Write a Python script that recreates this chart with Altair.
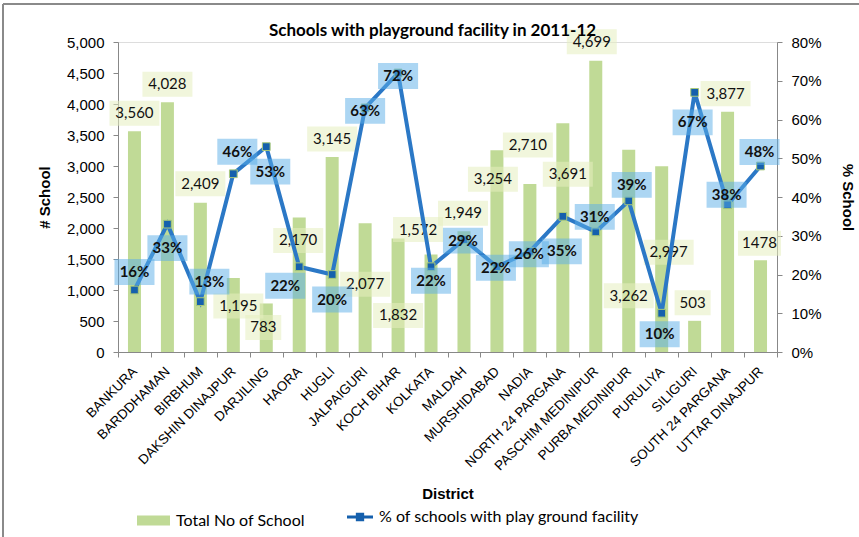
import altair as alt
import pandas as pd

# ---------------- data ----------------
DISTRICTS = [
    "BANKURA", "BARDDHAMAN", "BIRBHUM", "DAKSHIN DINAJPUR", "DARJILING", "HAORA",
    "HUGLI", "JALPAIGURI", "KOCH BIHAR", "KOLKATA", "MALDAH", "MURSHIDABAD", "NADIA",
    "NORTH 24 PARGANA", "PASCHIM MEDINIPUR", "PURBA MEDINIPUR", "PURULIYA", "SILIGURI",
    "SOUTH  24 PARGANA", "UTTAR DINAJPUR",
]
TOTAL_SCHOOLS = [3560, 4028, 2409, 1195, 783, 2170, 3145, 2077, 1832, 1572,
                 1949, 3254, 2710, 3691, 4699, 3262, 2997, 503, 3877, 1478]
TOTAL_LABELS = ["3,560", "4,028", "2,409", "1,195", "783", "2,170", "3,145", "2,077",
                "1,832", "1,572", "1,949", "3,254", "2,710", "3,691", "4,699", "3,262",
                "2,997", "503", "3,877", "1478"]
PCT_PLAYGROUND = [16, 33, 13, 46, 53, 22, 20, 63, 72, 22,
                  29, 22, 26, 35, 31, 39, 10, 67, 38, 48]

SERIES_BAR = "Total No of School"
SERIES_LINE = "% of schools with play ground facility"

# ---------------- label placement (pixel offsets, style only) ----------------
BAR_LABEL_DX = [0, 0, 0, 5, -3, -1, 0, 0, 0, -13, -1, -4, -2, 5, -4, 0, 7, -2, -2, -1]
BAR_LABEL_DY = [-18, -18, -19, 28, 24, 23, -18, 61, 77, -25, -18, 29, -39, 51, -19, 146, 86, -18, -18, -17]
PCT_LABEL_DX = [0, 0, 9, 4, 4, -14, 0, 0, 0, 0, -1, -1, -1, -1, -1, 3, -2, -2, -1, -1]
PCT_LABEL_DY = [-18, 24, -20, -22, 25, 19, 25, 3, 3, 14, 1, 1, 3, 35, -15, -16, 21, 30, -10, -14]

GREEN = "#c0da96"
BLUE_LINE = "#2b78c6"
BLUE_MARK = "#1560ad"
BOX_BLUE = "#5aaee8"
BOX_BEIGE = "#e6eebf"
AXIS_GREY = "#868686"
FONT = "Lato"

W, H = 659, 310
COUNT_MAX, PCT_MAX = 5000, 0.8
SYM = 60  # symbol side used for label boxes
HALF_STEP = W / len(DISTRICTS) / 2


def box_path(w, h):
    a = w / SYM
    b = h / SYM
    return f"M{-a:.3f},{-b:.3f}H{a:.3f}V{b:.3f}H{-a:.3f}Z"


df = pd.DataFrame({
    "district": DISTRICTS,
    "total": TOTAL_SCHOOLS,
    "total_label": TOTAL_LABELS,
    "pct": [p / 100 for p in PCT_PLAYGROUND],
    "pct_label": [f"{p}%" for p in PCT_PLAYGROUND],
    "s1": SERIES_BAR,
    "s2": SERIES_LINE,
})
# label anchors: the data value shifted by a pixel offset converted to data units
df["bdx"] = [d + HALF_STEP for d in BAR_LABEL_DX]
df["pdx"] = [d + HALF_STEP for d in PCT_LABEL_DX]
df["total_lab"] = df["total"] - pd.Series(BAR_LABEL_DY) * COUNT_MAX / H
df["pct_lab"] = df["pct"] - pd.Series(PCT_LABEL_DY) * PCT_MAX / H
df["bbox"] = [box_path(7 * len(t) + 15, 25) for t in TOTAL_LABELS]
df["pbox"] = box_path(40, 26)

x_enc = alt.X(
    "district:N", sort=DISTRICTS,
    scale=alt.Scale(paddingInner=0, paddingOuter=0),
    axis=alt.Axis(
        title="District", labelAngle=-45, labelAlign="right", labelBaseline="middle",
        labelPadding=12, tickBand="extent", tickSize=5, labelFontSize=13.5,
        titleFontSize=15, titleFontWeight="bold", titlePadding=14,
    ),
)

count_axis = alt.Axis(
    title="# School", values=list(range(0, 5001, 500)), format=",d", orient="left",
    grid=False, tickSize=5, labelPadding=9, labelFontSize=15,
    titleFontSize=15, titleFontWeight="bold", titlePadding=14,
)
pct_axis = alt.Axis(
    title="% School", values=[i / 10 for i in range(9)], format=".0%", orient="right",
    grid=False, tickSize=5, labelPadding=9, labelFontSize=15,
    titleFontSize=15, titleFontWeight="bold", titlePadding=18,
)
count_scale = alt.Scale(domain=[0, COUNT_MAX], nice=False)
pct_scale = alt.Scale(domain=[0, PCT_MAX], nice=False)

y_count = alt.Y("total:Q", scale=count_scale, axis=count_axis)
y_count_lab = alt.Y("total_lab:Q", scale=count_scale, axis=count_axis)
y_pct = alt.Y("pct:Q", scale=pct_scale, axis=pct_axis)
y_pct_lab = alt.Y("pct_lab:Q", scale=pct_scale, axis=pct_axis)

base = alt.Chart(df)

bars = base.mark_bar(size=13).encode(
    x=x_enc, y=y_count,
    color=alt.Color(
        "s1:N", scale=alt.Scale(domain=[SERIES_BAR], range=[GREEN]),
        legend=alt.Legend(
            orient="none", legendX=19, legendY=462, direction="horizontal", title=None,
            symbolType="M-1,-0.3H1V0.3H-1Z", symbolSize=33 * 33, symbolStrokeWidth=0,
            labelFontSize=16, labelFont=FONT, padding=0, labelOffset=6, labelLimit=400,
        ),
    ),
)

bar_boxes = base.mark_point(filled=True, opacity=0.55, strokeWidth=0, color=BOX_BEIGE).encode(
    x=x_enc, y=y_count_lab,
    xOffset=alt.XOffset("bdx:Q", scale=None),
    shape=alt.Shape("bbox:N", scale=None),
    size=alt.value(SYM * SYM),
)

bar_text = base.mark_text(fontSize=15, font=FONT, color="#111").encode(
    x=x_enc, y=y_count_lab,
    xOffset=alt.XOffset("bdx:Q", scale=None),
    text="total_label:N",
)

frame_top = base.mark_rule(color="#8a8a8a", strokeWidth=2).encode(
    x=alt.value(-115), x2=alt.value(741), y=alt.value(-38)
)
frame_left = base.mark_rule(color="#8a8a8a", strokeWidth=2).encode(
    x=alt.value(-115), y=alt.value(-38), y2=alt.value(495)
)

count_group = alt.layer(bars, bar_boxes, bar_text, frame_top, frame_left)

line = base.mark_line(color=BLUE_LINE, strokeWidth=4).encode(x=x_enc, y=y_pct)

points = base.mark_point(shape="square", filled=True, size=60, opacity=1,
                         stroke="#a9c97a", strokeWidth=1).encode(
    x=x_enc, y=y_pct,
    fill=alt.Fill(
        "s2:N", scale=alt.Scale(domain=[SERIES_LINE], range=[BLUE_MARK]),
        legend=alt.Legend(
            orient="none", legendX=229, legendY=462, direction="horizontal", title=None,
            symbolType="M-1,-0.12H1V0.12H-1Z M-0.32,-0.32H0.32V0.32H-0.32Z",
            symbolSize=26 * 26, symbolStrokeWidth=0, symbolFillColor=BLUE_LINE,
            labelFontSize=16, labelFont=FONT, padding=0, labelOffset=6, labelLimit=400,
        ),
    ),
)

pct_boxes = base.mark_point(filled=True, opacity=0.5, strokeWidth=0, color=BOX_BLUE).encode(
    x=x_enc, y=y_pct_lab,
    xOffset=alt.XOffset("pdx:Q", scale=None),
    shape=alt.Shape("pbox:N", scale=None),
    size=alt.value(SYM * SYM),
)

pct_text = base.mark_text(fontSize=15, font=FONT, fontWeight="bold", color="#111").encode(
    x=x_enc, y=y_pct_lab,
    xOffset=alt.XOffset("pdx:Q", scale=None),
    text="pct_label:N",
)

pct_group = alt.layer(line, points, pct_boxes, pct_text)

chart = alt.layer(count_group, pct_group).resolve_scale(
    y="independent", color="independent", fill="independent"
).properties(
    width=W, height=H,
    title=alt.Title(
        "Schools with playground facility in 2011-12", fontSize=17, font=FONT,
        fontWeight="bold", anchor="middle", frame="group", offset=-37, dx=-15, color="#000",
    ),
    autosize=alt.AutoSizeParams(type="none"),
    padding={"left": 118, "top": 42, "right": 82, "bottom": 185},
).configure_view(stroke=None).configure_axis(
    domainColor=AXIS_GREY, tickColor=AXIS_GREY, labelColor="#000", titleColor="#000",
    labelFont=FONT, titleFont=FONT, domainWidth=1.5,
).configure_legend(labelColor="#000").configure(background="white")

chart.save("out.html", embed_options={"renderer": "svg", "actions": False})
